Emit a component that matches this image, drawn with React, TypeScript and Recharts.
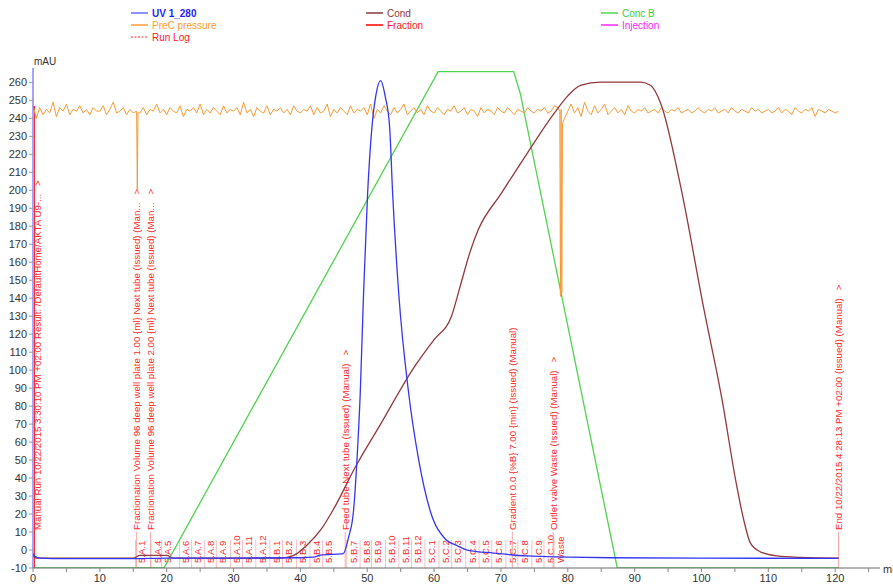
import React from "react";
import { ComposedChart, Line, XAxis, YAxis, ReferenceLine } from "recharts";

// UV 1_280 (mAU)
const uvTimes = [0, 0.3, 1, 5, 15, 20, 30, 40, 42, 43, 46.4, 47.2, 47.95, 48.46, 48.95, 49.45, 50.05, 50.7, 51.3, 52, 52.7, 53.35, 53.8, 54.7, 56.2, 57.7, 59.4, 61.7, 63.4, 65, 68.9, 73.9, 79.9, 86.4, 100, 120.5];
const uvValues = [-2, -3.5, -4.5, -4.8, -4.8, -4.5, -4.5, -4.3, -4, -2.8, -2, 7, 22, 50, 87, 143, 198, 235, 253, 261, 252, 235, 198, 143, 87, 50, 22, 6, 2.5, 0, -1.7, -3.3, -3.9, -4.3, -4.5, -4.7];

// Cond
const condTimes = [0, 0.5, 15, 16, 20, 21, 37, 39, 41, 43, 45, 48.2, 52, 56.9, 60, 62.6, 64, 65.4, 66.6, 70, 74, 78, 80, 81.9, 84.9, 90.9, 92.4, 93.9, 96.9, 100.3, 103.1, 105.1, 106.3, 107.3, 108.8, 111.3, 114.8, 120.5];
const condValues = [-3, -4.5, -4.5, -3, -3, -4.5, -4.5, -3, 2.8, 11, 23, 46, 70, 101, 117, 130, 148, 166, 178, 198, 221, 243, 252.5, 258.3, 260.2, 260.2, 258.3, 248.3, 201.8, 135, 83, 39, 17, 4, -1, -3.3, -4.1, -4.5];

// Conc B
const concTimes = [0, 19.6, 60.6, 71.9, 72.9, 87.4, 120.5];
const concValues = [-10, -10, 266, 266, 253.7, -10, -10];

// PreC pressure, every 0.5 min from 0
const pressureValues = [
  247, 240, 246, 242, 245, 243, 249, 241, 246, 244, 248, 242, 245, 244, 247, 243, 245, 242, 246, 244,
  244, 247, 242, 245, 249, 243, 244, 246, 242, 245, 243, 244, 243, 246, 242, 245, 244, 248, 243, 245,
  242, 246, 244, 243, 247, 241, 245, 244, 246, 243, 248, 242, 245, 243, 246, 244, 242, 247, 243, 245,
  244, 246, 242, 249, 243, 245, 241, 246, 244, 243, 247, 242, 245, 244, 246, 243, 245, 242, 247, 244,
  243, 245, 244, 247, 242, 246, 243, 244, 248, 241, 245, 243, 246, 244, 242, 247, 243, 245, 244, 246,
  242, 248, 240, 245, 243, 247, 244, 242, 246, 243, 245, 248, 242, 244, 246, 243, 245, 242, 247, 244,
  243, 246, 244, 242, 245, 244, 247, 243, 244, 246, 242, 245, 244, 241, 246, 243, 245, 244, 242, 246,
  244, 243, 246, 244, 242, 245, 244, 243, 246, 244, 243, 245, 244, 246, 243, 244, 247, 246, 245, 240,
  244, 248, 243, 246, 241, 249, 244, 242, 247, 243, 245, 248, 242, 244, 246, 243, 245, 242, 247, 244,
  243, 245, 244, 246, 243, 244, 245, 243, 246, 244, 243, 245, 244, 246, 243, 244, 245, 243, 244, 246,
  244, 243, 245, 244, 246, 243, 244, 245, 243, 246, 244, 243, 245, 244, 243, 246, 244, 245, 243, 244,
  245, 243, 244, 246, 243, 245, 244, 242, 246, 244, 243, 245, 244, 246, 241, 245, 244, 243, 245, 244,
  243, 244,
];
const pressureDipTimes = [15.6, 15.7, 78.8, 78.9, 79.1, 79.2];
const pressureDipValues = [200, 243, 244, 141, 143, 237];

// Run log events
const runLogTimes = [0, 15.5, 17.6, 46.7, 71.7, 77.8, 120.5];
const runLogTexts = [
  "Manual Run 10/22/2015 3:30:10 PM +02:00 Result: /DefaultHome/AKTA U9-...",
  "Fractionation Volume 96 deep well plate 1.00 {ml} Next tube (Issued) (Man...",
  "Fractionation Volume 96 deep well plate 2.00 {ml} Next tube (Issued) (Man...",
  "Feed tube Next tube (Issued) (Manual)",
  "Gradient 0.0 {%B} 7.00 {min} (Issued) (Manual)",
  "Outlet valve Waste (Issued) (Manual)",
  "End 10/22/2015 4:28:13 PM +02:00 (Issued) (Manual)",
];
const runLogCaret = [true, true, true, true, false, true, true];

// Fractions
const fractionNames = ["5.A.1", "5.A.4", "5.A.5", "5.A.6", "5.A.7", "5.A.8", "5.A.9", "5.A.10", "5.A.11", "5.A.12", "5.B.1", "5.B.2", "5.B.3", "5.B.4", "5.B.5", "5.B.7", "5.B.8", "5.B.9", "5.B.10", "5.B.11", "5.B.12", "5.C.1", "5.C.2", "5.C.3", "5.C.4", "5.C.5", "5.C.6", "5.C.7", "5.C.8", "5.C.9", "5.C.10", "Waste"];
const fractionTimes = [16.3, 18.6, 20.2, 22.9, 24.7, 26.6, 28.4, 30.5, 32.3, 34.3, 36.4, 38.3, 40.4, 42.4, 44.3, 47.9, 49.9, 51.6, 53.7, 55.7, 57.6, 59.6, 61.7, 63.6, 65.7, 67.7, 69.6, 71.7, 73.5, 75.6, 77.4, 78.9];

const xTicks = [0, 5, 10, 15, 20, 25, 30, 35, 40, 45, 50, 55, 60, 65, 70, 75, 80, 85, 90, 95, 100, 105, 110, 115, 120, 125];
const yTicks = [-10, 0, 10, 20, 30, 40, 50, 60, 70, 80, 90, 100, 110, 120, 130, 140, 150, 160, 170, 180, 190, 200, 210, 220, 230, 240, 250, 260];

const legendNames = ["UV 1_280", "PreC pressure", "Run Log", "Cond", "Fraction", "Conc B", "Injection"];
const legendColors = ["#1f1fff", "#ff9a2e", "#ff2020", "#8e3535", "#ff2020", "#3ccf3c", "#ff22ff"];
const legendSwatch = ["#8f8fff", "#ffb36b", "#ff3030", "#a86a6a", "#ff4040", "#7fe07f", "#ff5cff"];

const FONT = "'Liberation Sans', Arial, sans-serif";
const RED = "#ff2a2a";

const pts = (ts: number[], vs: number[]) => ts.map((t, i) => ({ t, v: vs[i] }));

const uvData = pts(uvTimes, uvValues);
const condData = pts(condTimes, condValues);
const concData = pts(concTimes, concValues);
const pressureData = [
  ...pressureValues.map((v, i) => ({ t: i * 0.5, v })),
  ...pts(pressureDipTimes, pressureDipValues),
].sort((a, b) => a.t - b.t);

const XTick = (props: any) => {
  const { x, y, payload } = props;
  if (payload.value % 10 !== 0) return null;
  return (
    <text x={x} y={y} dy="0.71em" textAnchor="middle" fontSize={11} fill="#333" fontFamily={FONT}>
      {payload.value}
    </text>
  );
};

const runLogLabel = (i: number) => (props: any) => {
  const { x, y, height } = props.viewBox;
  const bottom = y + height;
  const first = i === 0;
  const tx = x + (first ? 8 : 3.5);
  const ty = bottom - 38;
  return (
    <g>
      {first ? (
        <line x1={x + 1.5} x2={x + 1.5} y1={bottom} y2={bottom - 462} stroke={RED} strokeWidth={1} />
      ) : (
        <line x1={x} x2={x} y1={bottom} y2={ty + 2} stroke="#f7a8a8" strokeWidth={1} />
      )}
      <text x={tx} y={ty} transform={`rotate(-90 ${tx} ${ty})`} fontSize={9.7} fill={RED} fontFamily={FONT}>
        {runLogTexts[i]}
        {runLogCaret[i] ? <tspan dx={8}>{">"}</tspan> : null}
      </text>
    </g>
  );
};

const fractionLabel = (i: number) => (props: any) => {
  const { x, y, height } = props.viewBox;
  const bottom = y + height;
  const tx = x + 3.3;
  const ty = bottom - 5;
  return (
    <g>
      <line x1={x - 6.5} x2={x - 6.5} y1={bottom} y2={bottom - 28} stroke="#f9c0c0" strokeWidth={1} />
      <text x={tx} y={ty} transform={`rotate(-90 ${tx} ${ty})`} fontSize={9.5} fill={RED} fontFamily={FONT}>
        {fractionNames[i]}
      </text>
    </g>
  );
};

const Legend = () => {
  const cols = [152, 387, 622];
  const rows = [7, 19, 31];
  const place = [
    [0, 0], [0, 1], [0, 2], [1, 0], [1, 1], [2, 0], [2, 1],
  ];
  return (
    <>
      {legendNames.map((name, i) => {
        const [c, r] = place[i];
        return (
          <div
            key={name}
            style={{ position: "absolute", left: cols[c] - 21, top: rows[r], height: 12, display: "flex", alignItems: "center", fontFamily: FONT, fontSize: 10, color: legendColors[i], fontWeight: i === 0 ? "bold" : "normal", whiteSpace: "nowrap" }}
          >
            <svg width={17} height={4} style={{ marginRight: 4 }}>
              <line x1={0} x2={17} y1={2} y2={2} stroke={legendSwatch[i]} strokeWidth={i === 2 ? 1.2 : 2} strokeDasharray={i === 2 ? "2 1.5" : undefined} />
            </svg>
            {name}
          </div>
        );
      })}
    </>
  );
};

export default function App() {
  return (
    <div style={{ position: "absolute", left: 0, top: 0, width: 893, height: 585, overflow: "hidden", background: "#fff" }}>
      <Legend />
      <div style={{ position: "absolute", left: 34, top: 56, fontFamily: FONT, fontSize: 10, color: "#333" }}>mAU</div>
      <div style={{ position: "absolute", left: 883, top: 563, fontFamily: FONT, fontSize: 11, color: "#333" }}>min</div>
      <ComposedChart width={893} height={585} margin={{ top: 68, right: 13, left: 0, bottom: 0 }} style={{ position: "absolute", left: 0, top: 0 }}>
        <XAxis
          type="number"
          dataKey="t"
          domain={[0, 126.7]}
          ticks={xTicks}
          allowDataOverflow
          height={17}
          tickSize={4}
          tickMargin={2}
          axisLine={{ stroke: "#666" }}
          tickLine={{ stroke: "#888" }}
          tick={<XTick />}
        />
        <YAxis
          type="number"
          domain={[-10, 268]}
          ticks={yTicks}
          allowDataOverflow
          width={33}
          tickSize={4}
          tickMargin={2}
          axisLine={{ stroke: "#4a4aff" }}
          tickLine={{ stroke: "#999" }}
          tick={{ fontSize: 11, fill: "#333", fontFamily: FONT }}
        />
        {fractionTimes.map((t, i) => (
          <ReferenceLine key={"f" + i} x={t} stroke="none" label={fractionLabel(i)} />
        ))}
        {runLogTimes.map((t, i) => (
          <ReferenceLine key={"r" + i} x={t} stroke="none" label={runLogLabel(i)} />
        ))}
        <Line data={concData} dataKey="v" type="linear" stroke="#4fd34f" strokeWidth={1.3} dot={false} activeDot={false} isAnimationActive={false} />
        <Line data={pressureData} dataKey="v" type="linear" stroke="#f99a35" strokeWidth={1} dot={false} activeDot={false} isAnimationActive={false} />
        <Line data={condData} dataKey="v" type="monotone" stroke="#93383c" strokeWidth={1.3} dot={false} activeDot={false} isAnimationActive={false} />
        <Line data={uvData} dataKey="v" type="monotone" stroke="#3535f2" strokeWidth={1.3} dot={false} activeDot={false} isAnimationActive={false} />
      </ComposedChart>
    </div>
  );
}
